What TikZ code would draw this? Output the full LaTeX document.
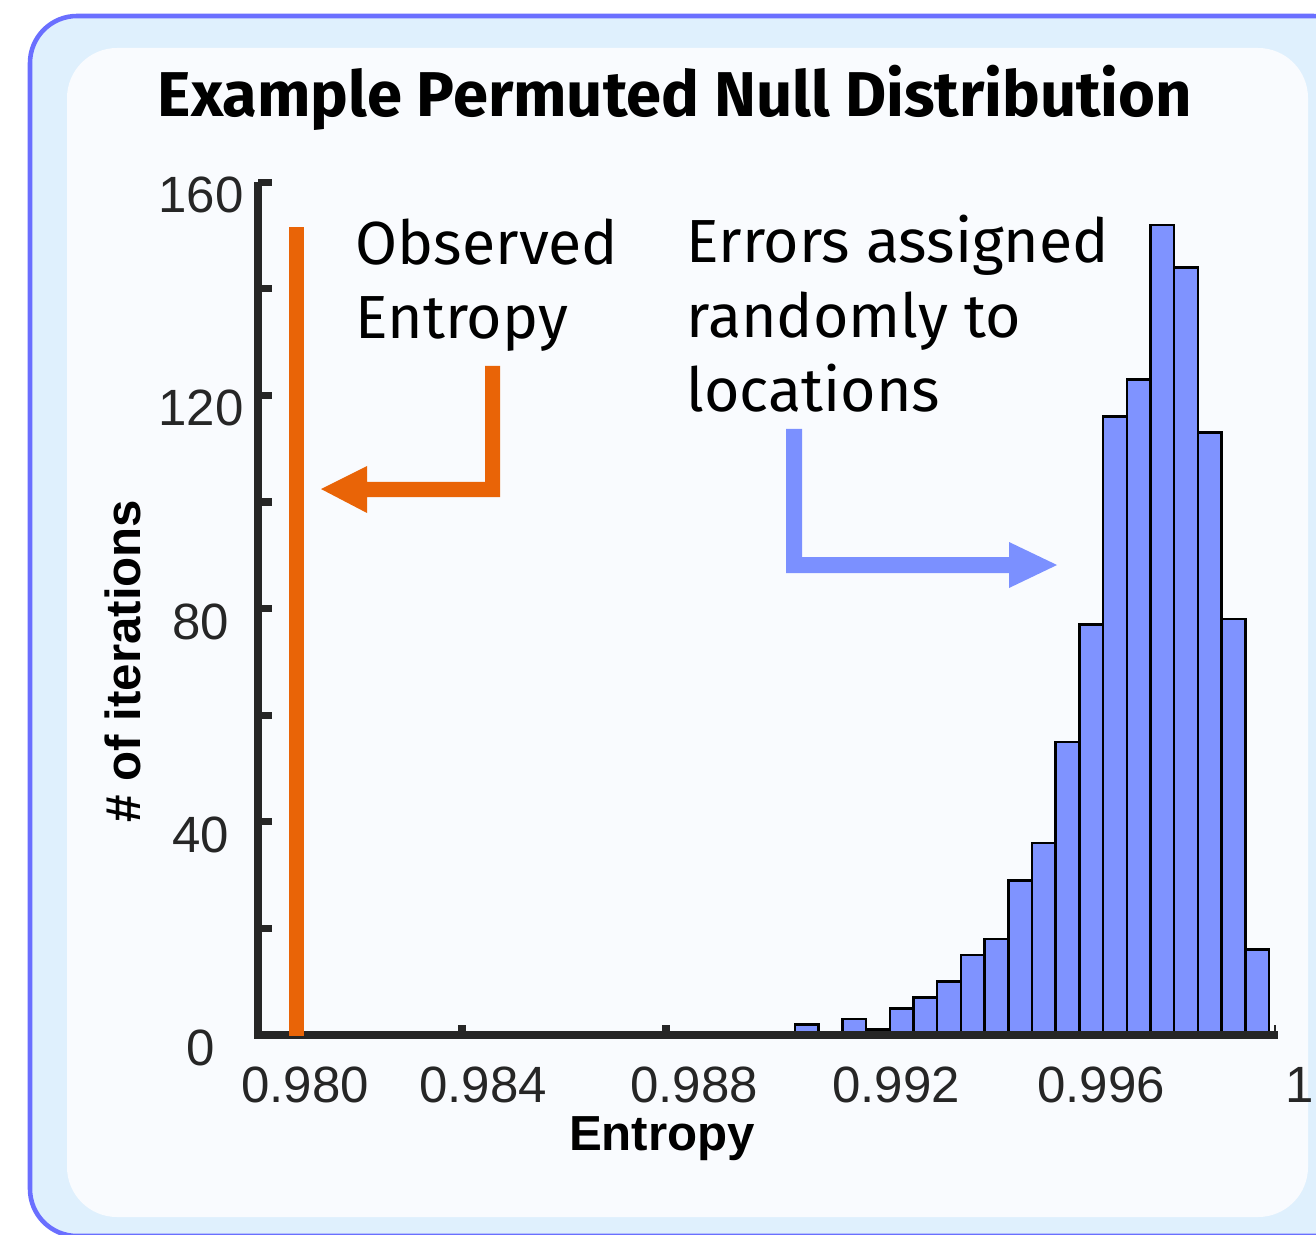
\documentclass[tikz,border=0pt]{standalone}
\usepackage{fontspec}
\setmainfont{Fira Sans}
\newfontfamily\axisfont{Liberation Sans}

\definecolor{framefill}{HTML}{DFF0FD}
\definecolor{frameline}{HTML}{6A6FFF}
\definecolor{panelfill}{HTML}{F9FBFE}
\definecolor{barblue}{HTML}{7F93FF}
\definecolor{arrowblue}{HTML}{7B90FF}
\definecolor{obsorange}{HTML}{E96407}
\definecolor{axisgray}{HTML}{262626}

\begin{document}
\begin{tikzpicture}[x=0.01cm,y=-0.01cm,
  axis/.style={draw=axisgray,line width=2pt},
  bar/.style={fill=barblue,draw=black,line width=0.7pt},
  ticklabel/.style={font=\axisfont\fontsize{14.5}{17}\selectfont,text=axisgray,inner sep=0pt},
  axislabel/.style={font=\axisfont\bfseries\fontsize{14}{17}\selectfont,inner sep=0pt},
  note/.style={font=\fontsize{17.3}{21.3}\selectfont,align=left,inner sep=0pt},
  heading/.style={font=\bfseries\fontsize{18}{22}\selectfont,inner sep=0pt}]

\useasboundingbox (0,0) rectangle (1316,1234);
\clip (0,0) rectangle (1316,1234);

% frame and panel
\draw[fill=framefill,draw=frameline,line width=1.3pt,rounded corners=0.47cm]
  (30,16) rectangle (1360,1236);
\fill[panelfill,rounded corners=0.5cm] (67,48) rectangle (1308,1217);

\node[heading,anchor=base] (title) at (675,117) {Example Permuted Null Distribution};

% histogram
\foreach \n [count=\i from 0] in {2,0,3,1,5,7,10,15,18,29,36,55,77,116,123,152,144,113,78,16}
 {\ifnum\n>0
  \draw[bar] ({795+23.7*\i},1035) rectangle ++(23.7,{-5.33*\n});
  \fi
 }

% axes
\draw[axis] (258,182) -- (258,1035) -- (1278,1035);
\foreach \c in {20,40,...,160}
 {\draw[axis] (258,{1035-5.33*\c}) -- ++(14,0);}
\foreach \xx in {462,666}
 {\draw[axis] (\xx,1035) -- ++(0,-10);}
\draw[axisgray,line width=0.6pt] (1275,1035) -- ++(0,-10);

\foreach \c in {0,40,...,160}
 {\node[ticklabel] (ylab\c) at (201,{1048-5.33*\c}) {\c};}
\foreach \lab/\xx [count=\i] in {0.980/305,0.984/483,0.988/694,0.992/896,0.996/1101,1/1300}
 {\node[ticklabel] (xlab\i) at (\xx,1085) {\lab};}

\node[axislabel,anchor=base] (xtitle) at (662,1150) {Entropy};
\node[axislabel,anchor=base,rotate=90] (ytitle) at (140,661) {\# of iterations};

% observed value
\fill[obsorange] (289,227) rectangle (304,1036);
\fill[obsorange] (485,366) -- (500,366) -- (500,497) -- (367,497) -- (367,513)
  -- (321,489) -- (367,466) -- (367,482) -- (485,482) -- cycle;
\node[note,anchor=base west] (obs) at (355,339) {Observed\\Entropy};

% null distribution
\fill[arrowblue] (786,429) -- (802,429) -- (802,557) -- (1009,557) -- (1009,542)
  -- (1057,565) -- (1009,588) -- (1009,573) -- (786,573) -- cycle;
\node[note,anchor=base west] (null) at (686,412) {Errors assigned\\randomly to\\locations};

\end{tikzpicture}
\end{document}
